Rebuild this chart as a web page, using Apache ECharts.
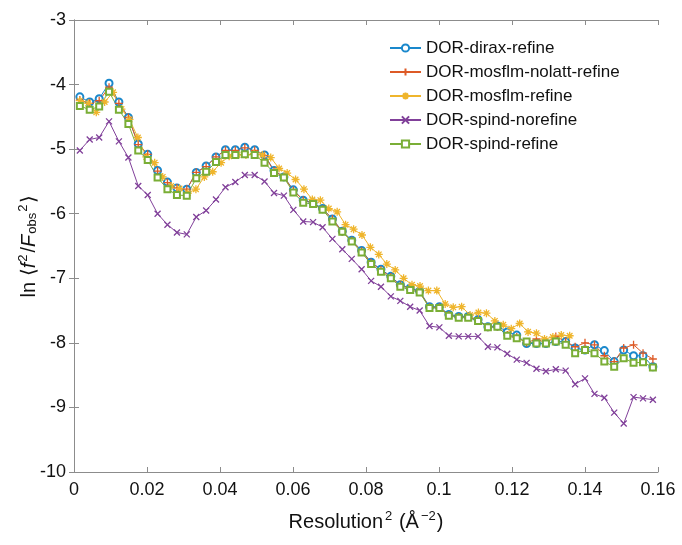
<!DOCTYPE html>
<html>
<head>
<meta charset="utf-8">
<script src="https://cdn.jsdelivr.net/npm/echarts@6/dist/echarts.min.js"></script>
<style>
html,body{margin:0;padding:0;background:#fff;}
#main{width:682px;height:545px;}
</style>
</head>
<body>
<div id="main"></div>
<script>
// resolution^2 of the shells (dirax, nolatt, spind use the same shells)
var xShell = [0.0016,0.0043,0.0069,0.0096,0.0123,0.0149,0.0176,0.0202,0.0229,0.0256,
  0.0282,0.0309,0.0335,0.0362,0.0389,0.0415,0.0442,0.0468,0.0495,0.0522,
  0.0548,0.0575,0.0601,0.0628,0.0655,0.0681,0.0708,0.0735,0.0761,0.0788,
  0.0814,0.0841,0.0868,0.0894,0.0921,0.0947,0.0974,0.1001,0.1027,0.1054,
  0.1080,0.1107,0.1134,0.1160,0.1187,0.1213,0.1240,0.1267,0.1293,0.1320,
  0.1347,0.1373,0.1400,0.1426,0.1453,0.1480,0.1506,0.1533,0.1559,0.1586];
// mosflm-refine has its own shells
var xMosflm = [0.0016,0.0039,0.0061,0.0084,0.0107,0.0130,0.0152,0.0175,0.0198,0.0221,
  0.0243,0.0266,0.0289,0.0312,0.0334,0.0357,0.0380,0.0403,0.0425,0.0448,
  0.0471,0.0493,0.0516,0.0539,0.0562,0.0584,0.0607,0.0630,0.0653,0.0675,
  0.0698,0.0721,0.0744,0.0766,0.0789,0.0812,0.0835,0.0857,0.0880,0.0903,
  0.0926,0.0948,0.0971,0.0994,0.1017,0.1039,0.1062,0.1085,0.1108,0.1130,
  0.1153,0.1176,0.1198,0.1221,0.1244,0.1267,0.1289,0.1312,0.1335,0.1358];

var diraxRefine = [-4.19,-4.27,-4.22,-3.98,-4.27,-4.51,-4.92,-5.08,-5.33,-5.51,
  -5.60,-5.62,-5.36,-5.26,-5.12,-5.01,-5.01,-4.97,-5.01,-5.09,
  -5.33,-5.43,-5.63,-5.79,-5.83,-5.92,-6.08,-6.27,-6.41,-6.57,
  -6.75,-6.86,-6.97,-7.10,-7.15,-7.20,-7.44,-7.44,-7.56,-7.59,
  -7.59,-7.64,-7.75,-7.74,-7.83,-7.88,-8.01,-8.01,-8.01,-7.98,
  -7.98,-8.08,-8.11,-8.03,-8.12,-8.29,-8.11,-8.20,-8.20,-8.37];
var mosflmNolatt = [-4.24,-4.29,-4.25,-4.04,-4.29,-4.51,-4.93,-5.08,-5.34,-5.52,
  -5.60,-5.62,-5.36,-5.27,-5.12,-5.02,-5.02,-4.98,-5.02,-5.10,
  -5.34,-5.43,-5.64,-5.79,-5.84,-5.93,-6.08,-6.28,-6.42,-6.58,
  -6.76,-6.87,-6.98,-7.11,-7.16,-7.21,-7.45,-7.45,-7.57,-7.60,
  -7.60,-7.65,-7.76,-7.75,-7.88,-7.91,-8.00,-7.94,-8.00,-7.90,
  -7.98,-8.06,-8.00,-8.03,-8.20,-8.29,-8.08,-8.03,-8.16,-8.25];
var mosflmRefine = [-4.25,-4.29,-4.43,-4.27,-4.12,-4.38,-4.54,-4.82,-5.12,-5.21,
  -5.43,-5.57,-5.61,-5.68,-5.62,-5.43,-5.35,-5.21,-5.11,-5.09,
  -5.09,-5.07,-5.09,-5.13,-5.30,-5.37,-5.47,-5.62,-5.78,-5.79,
  -5.92,-5.97,-6.17,-6.24,-6.33,-6.52,-6.63,-6.78,-6.87,-7.00,
  -7.10,-7.12,-7.19,-7.19,-7.40,-7.45,-7.44,-7.57,-7.53,-7.54,
  -7.66,-7.72,-7.78,-7.70,-7.83,-7.85,-7.94,-7.91,-7.88,-7.89];
var spindNorefine = [-5.02,-4.85,-4.82,-4.57,-4.88,-5.13,-5.57,-5.71,-6.00,-6.17,
  -6.29,-6.32,-6.05,-5.95,-5.78,-5.59,-5.51,-5.40,-5.40,-5.50,
  -5.68,-5.72,-5.94,-6.12,-6.13,-6.21,-6.39,-6.55,-6.70,-6.86,
  -7.04,-7.13,-7.28,-7.35,-7.44,-7.50,-7.74,-7.76,-7.89,-7.90,
  -7.90,-7.90,-8.06,-8.07,-8.17,-8.26,-8.31,-8.40,-8.44,-8.41,
  -8.43,-8.64,-8.55,-8.79,-8.85,-9.08,-9.25,-8.84,-8.86,-8.88];
var spindRefine = [-4.33,-4.39,-4.34,-4.11,-4.39,-4.61,-5.02,-5.17,-5.44,-5.62,
  -5.71,-5.72,-5.45,-5.35,-5.20,-5.09,-5.09,-5.08,-5.09,-5.21,
  -5.37,-5.44,-5.67,-5.83,-5.85,-5.94,-6.12,-6.28,-6.43,-6.60,
  -6.78,-6.90,-7.00,-7.13,-7.18,-7.22,-7.46,-7.46,-7.58,-7.61,
  -7.61,-7.66,-7.76,-7.75,-7.89,-7.93,-7.98,-8.01,-8.01,-7.98,
  -8.03,-8.16,-8.11,-8.16,-8.29,-8.37,-8.24,-8.31,-8.30,-8.38];

var seriesNames = ['DOR-dirax-refine','DOR-mosflm-nolatt-refine','DOR-mosflm-refine','DOR-spind-norefine','DOR-spind-refine'];
var colors = ['#1a88cc','#dd5a26','#efb52c','#81409a','#7aae36'];

var plusSym = 'path://M0,5L10,5M5,0L5,10';
var crossSym = 'path://M0,0L10,10M10,0L0,10';
var starSym = 'path://M0,5L10,5M5,0L5,10M1.5,1.5L8.5,8.5M8.5,1.5L1.5,8.5';

function pairs(xs, ys){
  return ys.map(function(y, i){ return [xs[i], y]; });
}

function mk(idx, xs, ys, symbol, size, stroked){
  var c = colors[idx];
  return {
    name: seriesNames[idx],
    type: 'line',
    data: pairs(xs, ys),
    symbol: symbol,
    symbolSize: size,
    showAllSymbol: true,
    lineStyle: {color: c, width: 1},
    itemStyle: stroked ? {color: c, borderColor: c, borderWidth: 1.3} : {color: c, borderWidth: 1.2},
    emphasis: {disabled: true},
    animation: false
  };
}

var axisGray = '#8c8c8c';
var labelFont = 'Liberation Sans, Arial, Helvetica, sans-serif';

var myChart = echarts.init(document.getElementById('main'));
var option = {
  backgroundColor: '#fff',
  animation: false,
  grid: {left: 74, right: 24, top: 20, bottom: 73},
  legend: {
    orient: 'vertical',
    left: 384,
    top: 34,
    itemWidth: 31,
    itemHeight: 9,
    itemGap: 6,
    textStyle: {fontSize: 17, color: '#111', fontFamily: labelFont, lineHeight: 18},
    data: seriesNames
  },
  xAxis: [
    {
      type: 'value',
      min: 0, max: 0.16, interval: 0.02,
      name: '{n|Resolution}{s|2}{n| (Å}{s|−2}{n|)}',
      nameLocation: 'middle',
      nameGap: 38,
      nameMoveOverlap: false,
      nameTextStyle: {
        rich: {
          n: {fontSize: 20, fontFamily: labelFont, color: '#111', lineHeight: 22, verticalAlign: 'bottom'},
          s: {fontSize: 13, fontFamily: labelFont, color: '#111', lineHeight: 22, verticalAlign: 'top', padding: [0, 1, 0, 2]}
        }
      },
      axisLine: {lineStyle: {color: axisGray}},
      axisTick: {inside: true, length: 5, lineStyle: {color: axisGray}},
      axisLabel: {fontSize: 18, color: '#111', fontFamily: labelFont, margin: 9},
      splitLine: {show: false}
    },
    {
      type: 'value', position: 'top',
      min: 0, max: 0.16, interval: 0.02,
      axisLine: {lineStyle: {color: axisGray}},
      axisTick: {inside: true, length: 5, lineStyle: {color: axisGray}},
      axisLabel: {show: false},
      splitLine: {show: false}
    }
  ],
  yAxis: [
    {
      type: 'value',
      min: -10, max: -3, interval: 1,
      name: '{n|ln ⟨}{i|f}{s|2}{n|/}{i|F}{b|obs}{s|2}{n|⟩}',
      nameLocation: 'middle',
      nameRotate: 90,
      nameGap: 35,
      nameMoveOverlap: false,
      nameTextStyle: {
        rich: {
          n: {fontSize: 20, fontFamily: labelFont, color: '#111', lineHeight: 22, verticalAlign: 'bottom'},
          i: {fontSize: 20, fontFamily: labelFont, fontStyle: 'italic', color: '#111', lineHeight: 22, verticalAlign: 'bottom'},
          s: {fontSize: 13, fontFamily: labelFont, color: '#111', lineHeight: 22, verticalAlign: 'top', padding: [0, 2, 0, 1]},
          b: {fontSize: 13, fontFamily: labelFont, color: '#111', lineHeight: 22, verticalAlign: 'bottom', padding: [0, 0, 0, 1]}
        }
      },
      axisLine: {lineStyle: {color: axisGray}},
      axisTick: {inside: true, length: 5, lineStyle: {color: axisGray}},
      axisLabel: {fontSize: 18, color: '#111', fontFamily: labelFont, margin: 8},
      splitLine: {show: false}
    },
    {
      type: 'value', position: 'right',
      min: -10, max: -3, interval: 1,
      axisLine: {show: true, lineStyle: {color: axisGray}},
      axisTick: {show: true, inside: true, length: 5, lineStyle: {color: axisGray}},
      axisLabel: {show: false},
      splitLine: {show: false}
    }
  ],
  series: [
    mk(0, xShell, diraxRefine, 'emptyCircle', 7, false),
    mk(1, xShell, mosflmNolatt, plusSym, 8, true),
    mk(2, xMosflm, mosflmRefine, starSym, 8, true),
    mk(3, xShell, spindNorefine, crossSym, 6, true),
    mk(4, xShell, spindRefine, 'emptyRect', 6, false)
  ]
};
myChart.setOption(option);
</script>
</body>
</html>
